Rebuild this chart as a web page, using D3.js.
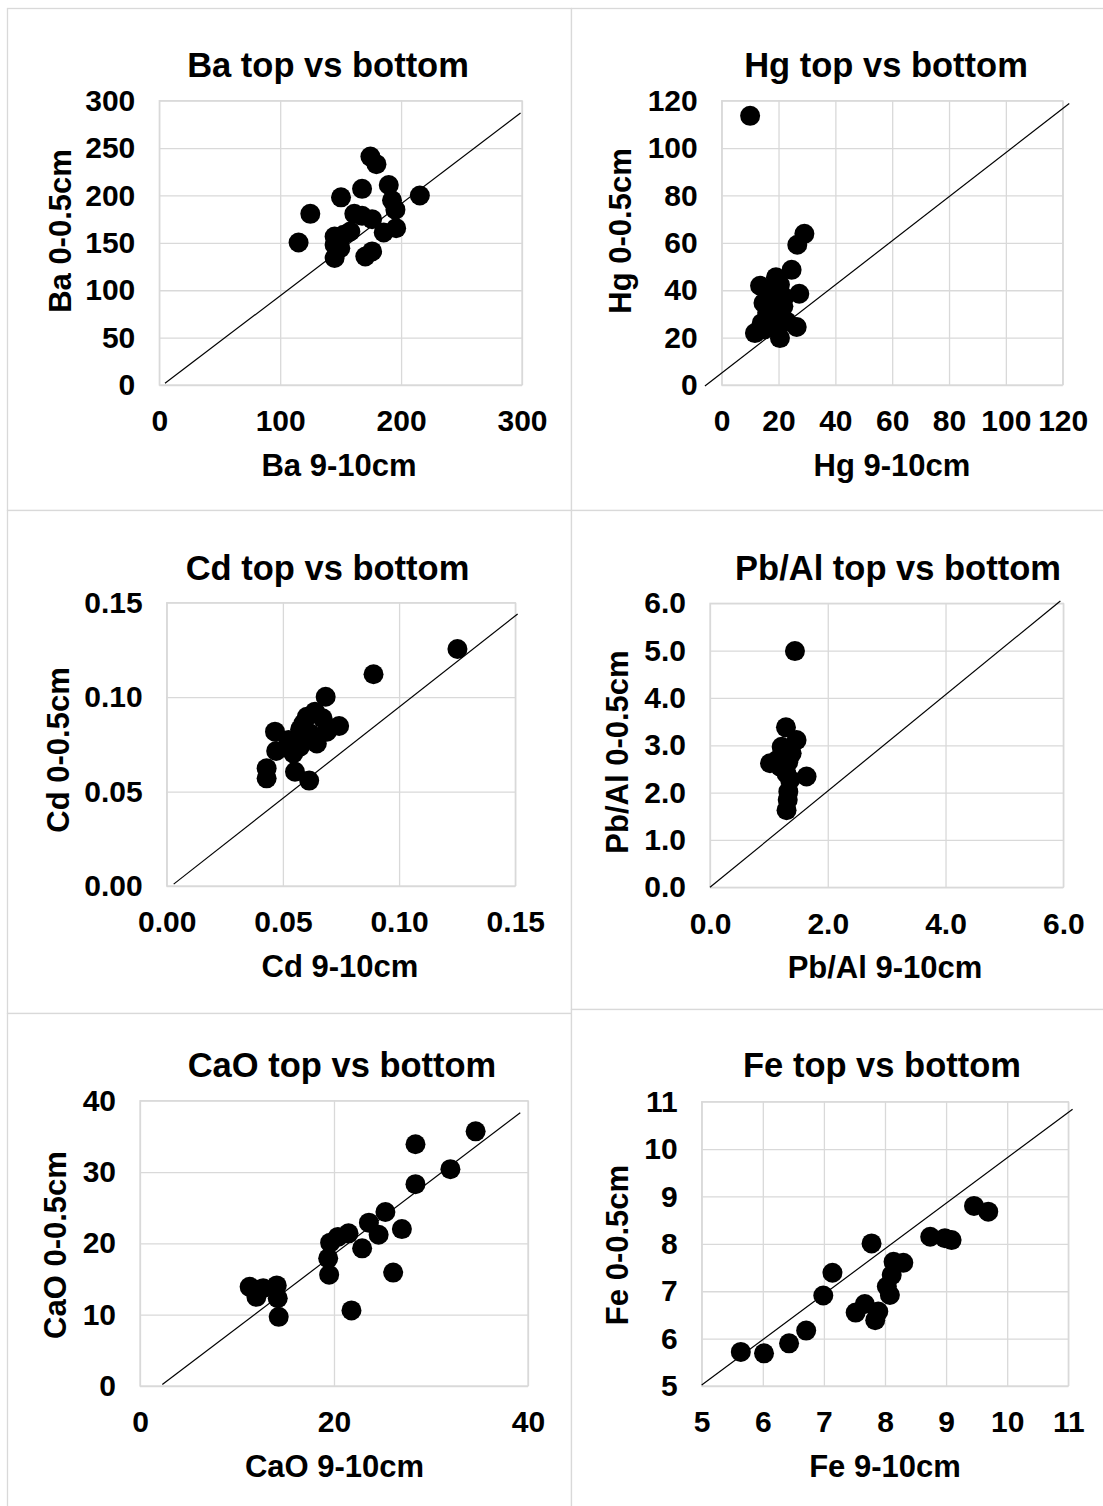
<!DOCTYPE html>
<html><head><meta charset="utf-8">
<script src="https://cdn.jsdelivr.net/npm/d3@7"></script>
<style>body{margin:0;background:#fff}svg{display:block}text{font-family:"Liberation Sans",Arial,sans-serif;font-weight:bold;fill:#000}</style>
</head><body><svg id="c" width="1103" height="1506"></svg>
<script>
// ---------- data ----------
const titles = ["Ba top vs bottom","Hg top vs bottom","Cd top vs bottom","Pb/Al top vs bottom","CaO top vs bottom","Fe top vs bottom"];
const xTitles = ["Ba 9-10cm","Hg 9-10cm","Cd 9-10cm","Pb/Al 9-10cm","CaO 9-10cm","Fe 9-10cm"];
const yTitles = ["Ba 0-0.5cm","Hg 0-0.5cm","Cd 0-0.5cm","Pb/Al 0-0.5cm","CaO 0-0.5cm","Fe 0-0.5cm"];

const baX = [174.6,179.6,189.8,167.7,150.3,215.5,192.5,195.3,124.9,161.3,167.7,176,185.6,195.9,158,152.5,115.2,145,145,149.7,145,170.4,176];
const baY = [241,233,211,207,198,200,195,185,180.6,180.6,178.5,175,161,165.5,162,158.5,150.4,156.7,148,144.4,134,135.6,141];
const hgX = [10,29.1,26.6,24.6,19.1,13.5,20.5,27.3,17,22,14.7,19.4,21.7,18.8,16,14.1,17.6,22.9,26.4,11.7,20.5,15,19];
const hgY = [113.6,63.8,59.2,48.6,45.5,41.9,42.3,38.5,38.8,37,34.6,36.7,33.2,29,30.5,26.1,26.1,26.8,24.5,21.9,19.8,23.5,24];
const cdX = [0.1251,0.089,0.0684,0.0638,0.0603,0.0671,0.0742,0.0574,0.0466,0.0689,0.0617,0.0646,0.0524,0.0545,0.0471,0.0574,0.043,0.043,0.0552,0.0613,0.0588];
const cdY = [0.1255,0.1121,0.1002,0.0923,0.0896,0.0888,0.0847,0.0829,0.0817,0.0817,0.0808,0.0755,0.0773,0.0702,0.0715,0.0738,0.0623,0.057,0.0605,0.0558,0.086];
const pbX = [1.443,1.29,1.47,1.217,1.387,1.019,1.19,1.33,1.64,1.36,1.33,1.30,1.25,1.15,1.3,1.32];
const pbY = [4.99,3.38,3.11,2.97,2.83,2.62,2.55,2.65,2.34,2.27,2.02,1.63,2.85,2.7,2.4,1.85];
const caX = [34.6,28.4,32.0,28.4,25.3,23.6,27.0,24.6,21.5,20.4,19.6,22.9,19.4,19.5,26.1,21.8,11.3,12.2,12.0,14.1,14.2,14.3,12.7];
const caY = [35.7,33.9,30.4,28.3,24.4,22.9,22.0,21.2,21.4,20.9,20.1,19.3,17.9,15.6,15.9,10.6,13.9,13.5,12.5,14.1,12.3,9.7,13.7];
const feX = [9.457,9.69,8.74,8.98,9.09,7.78,8.14,8.30,8.11,7.14,8.03,8.08,6.99,7.67,7.52,7.89,7.84,6.71,6.43,5.64,6.02];
const feY = [8.80,8.68,8.15,8.12,8.08,8.01,7.62,7.60,7.34,7.39,7.10,6.92,6.91,6.73,6.55,6.57,6.39,6.17,5.90,5.72,5.69];

// 1:1 reference lines (start, end)
const baLineX = [4.7,298.8], baLineY = [1.8,287];
const hgLineX = [-5.9,122.3], hgLineY = [-0.4,118.8];
const cdLineX = [0.003,0.151], cdLineY = [0.001,0.144];
const pbLineX = [0,5.95], pbLineY = [0,6.05];
const caLineX = [2.3,39.2], caLineY = [0.2,38.3];
const feLineX = [5,11.07], feLineY = [5.02,10.84];

// axes domains & ticks
const baXTicks = [0,100,200,300], baYTicks = [0,50,100,150,200,250,300];
const hgXTicks = [0,20,40,60,80,100,120], hgYTicks = [0,20,40,60,80,100,120];
const cdXTicks = [0,0.05,0.10,0.15], cdYTicks = [0,0.05,0.10,0.15];
const pbXTicks = [0,2,4,6], pbYTicks = [0,1,2,3,4,5,6];
const caXTicks = [0,20,40], caYTicks = [0,10,20,30,40];
const feXTicks = [5,6,7,8,9,10,11], feYTicks = [5,6,7,8,9,10,11];
const tickFormats = [",.0f",",.0f",".2f",".1f",",.0f",",.0f"];

// ---------- layout ----------
const panels = [
 {xs:baX,ys:baY,lx:baLineX,ly:baLineY,xt:baXTicks,yt:baYTicks,box:[7,8,564,502],plot:[159.3,100.7,522,385],tX:328,tY:76,yTX:60,yTY:231,xTX:339},
 {xs:hgX,ys:hgY,lx:hgLineX,ly:hgLineY,xt:hgXTicks,yt:hgYTicks,box:[571,8,540,502],plot:[721.7,100.7,1062.7,385],tX:886,tY:76,yTX:620,yTY:231,xTX:892},
 {xs:cdX,ys:cdY,lx:cdLineX,ly:cdLineY,xt:cdXTicks,yt:cdYTicks,box:[7,510,564,503],plot:[166.7,602.7,515.3,886],tX:327.5,tY:579,yTX:58,yTY:750,xTX:340},
 {xs:pbX,ys:pbY,lx:pbLineX,ly:pbLineY,xt:pbXTicks,yt:pbYTicks,box:[571,510,540,499],plot:[710,603.3,1063.3,887.3],tX:898,tY:579,yTX:617,yTY:752,xTX:885},
 {xs:caX,ys:caY,lx:caLineX,ly:caLineY,xt:caXTicks,yt:caYTicks,box:[7,1013,564,500],plot:[140,1100.7,528,1386],tX:342,tY:1076,yTX:55,yTY:1245,xTX:334.5},
 {xs:feX,ys:feY,lx:feLineX,ly:feLineY,xt:feXTicks,yt:feYTicks,box:[571,1009,540,504],plot:[701.7,1101.7,1068.3,1386],tX:882,tY:1076,yTX:617,yTY:1245,xTX:885}
];

const svg = d3.select("#c");
const grid = "#d9d9d9";
const tickFont = 30, axisFont = 31, titleFont = 34.5;

panels.forEach((p,i)=>{
  const g = svg.append("g");
  g.append("rect").attr("x",p.box[0]+0.5).attr("y",p.box[1]+0.5).attr("width",p.box[2]).attr("height",p.box[3])
    .attr("fill","#fff").attr("stroke",grid).attr("stroke-width",1.3);
  const [x0,y0,x1,y1] = p.plot;
  const xs = d3.scaleLinear().domain(d3.extent(p.xt)).range([x0,x1]);
  const ys = d3.scaleLinear().domain(d3.extent(p.yt)).range([y1,y0]);
  const fmt = d3.format(tickFormats[i]);
  const styleTicks = a=>{a.select(".domain").remove();a.selectAll(".tick line").attr("stroke",grid).attr("stroke-width",1.3);
      a.selectAll(".tick text").attr("font-size",tickFont).attr("font-family","Liberation Sans, Arial").attr("font-weight","bold").attr("fill","#000");};
  g.append("g").attr("transform",`translate(0,${y1})`)
    .call(d3.axisBottom(xs).tickValues(p.xt).tickSize(-(y1-y0)).tickFormat(fmt).tickPadding(25))
    .call(styleTicks);
  g.append("g").attr("transform",`translate(${x0},0)`)
    .call(d3.axisLeft(ys).tickValues(p.yt).tickSize(-(x1-x0)).tickFormat(fmt).tickPadding(24))
    .call(styleTicks);
  g.append("rect").attr("x",x0).attr("y",y0).attr("width",x1-x0).attr("height",y1-y0)
    .attr("fill","none").attr("stroke",grid).attr("stroke-width",1.3);
  // 1:1 line
  g.append("line").attr("x1",xs(p.lx[0])).attr("y1",ys(p.ly[0])).attr("x2",xs(p.lx[1])).attr("y2",ys(p.ly[1]))
    .attr("stroke","#000").attr("stroke-width",1.2);
  // points
  g.selectAll("circle.pt").data(p.xs.map((v,k)=>[v,p.ys[k]])).join("circle")
    .attr("cx",d=>xs(d[0])).attr("cy",d=>ys(d[1])).attr("r",10).attr("fill","#000");
  // titles
  g.append("text").attr("x",p.tX).attr("y",p.tY+1).attr("text-anchor","middle").attr("font-size",titleFont).text(titles[i]);
  g.append("text").attr("x",p.xTX).attr("y",y1+91).attr("text-anchor","middle").attr("font-size",axisFont).text(xTitles[i]);
  g.append("text").attr("transform",`translate(${p.yTX+11},${p.yTY}) rotate(-90)`).attr("text-anchor","middle").attr("font-size",axisFont).text(yTitles[i]);
});
</script></body></html>
